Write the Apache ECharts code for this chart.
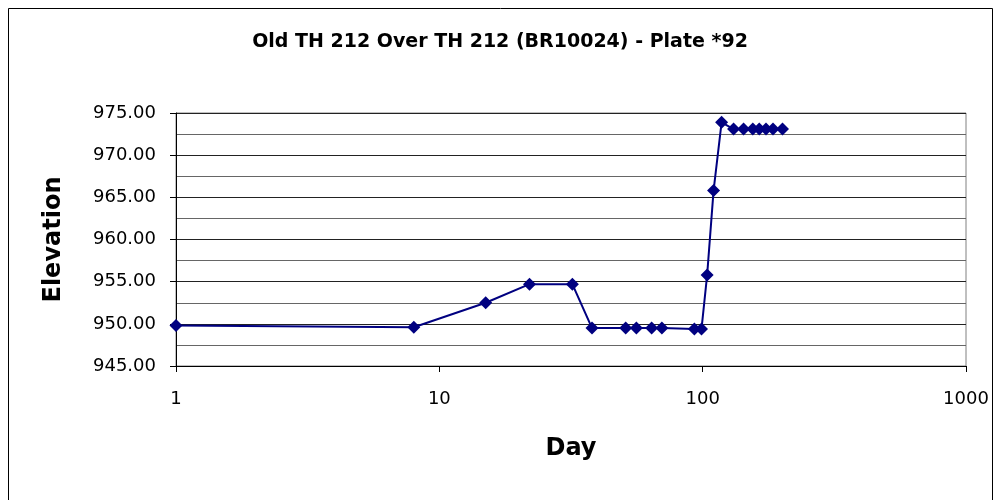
<!DOCTYPE html>
<html>
<head>
<meta charset="utf-8">
<script src="https://cdn.jsdelivr.net/npm/echarts@6/dist/echarts.min.js"></script>
<style>
  html, body { margin: 0; padding: 0; background: #fff; }
  #chart { width: 1000px; height: 500px; }
</style>
</head>
<body>
<div id="chart"></div>
<script>
// 读图得到的数据
var days = [1, 8, 15, 22, 32, 38, 51, 56, 64, 70, 93, 99, 104, 110, 118, 131, 143, 155, 164, 174, 185, 201];
var elevations = [949.8, 949.6, 952.5, 954.7, 954.7, 949.5, 949.5, 949.5, 949.5, 949.5, 949.4, 949.4,
    955.8, 965.8, 973.9, 973.1, 973.1, 973.1, 973.1, 973.1, 973.1, 973.1];
var xTicks = [1, 10, 100, 1000];

var points = [];
for (var i = 0; i < days.length; i++) {
    points.push([days[i], elevations[i]]);
}

var chart = echarts.init(document.getElementById('chart'));
var font = 'DejaVu Sans, sans-serif';
var option = {
    backgroundColor: '#fff',
    animation: false,
    title: {
        text: 'Old TH 212 Over TH 212 (BR10024) - Plate *92',
        left: 'center',
        top: 28,
        textStyle: { fontFamily: font, fontSize: 19, fontWeight: 'bold', color: '#000' }
    },
    graphic: [{
        type: 'rect',
        shape: { x: 8.5, y: 8.5, width: 984, height: 520 },
        style: { fill: 'none', stroke: '#000', lineWidth: 1 },
        z: -1
    }],
    grid: {
        left: 176, right: 34, top: 113, bottom: 134,
        show: true, borderColor: '#808080', borderWidth: 1
    },
    xAxis: {
        type: 'log',
        logBase: 10,
        min: 1,
        max: 1000,
        name: 'Day',
        nameLocation: 'middle',
        nameGap: 71,
        nameTextStyle: { fontFamily: font, fontSize: 24, fontWeight: 'bold', color: '#000' },
        axisLine: { show: true, lineStyle: { color: '#000', width: 1 } },
        axisTick: { show: true, inside: false, length: 6, lineStyle: { color: '#000' } },
        minorTick: { show: false },
        splitLine: { show: false },
        axisLabel: {
            margin: 24,
            fontFamily: font, fontSize: 18, color: '#000',
            formatter: function (v) {
                return xTicks.indexOf(Math.round(v)) >= 0 ? String(Math.round(v)) : '';
            }
        }
    },
    yAxis: {
        type: 'value',
        min: 945,
        max: 975,
        interval: 5,
        name: 'Elevation',
        nameLocation: 'middle',
        nameGap: 110,
        nameTextStyle: { fontFamily: font, fontSize: 24, fontWeight: 'bold', color: '#000' },
        axisLine: { show: true, lineStyle: { color: '#000', width: 1 } },
        axisTick: { show: true, inside: false, length: 6, lineStyle: { color: '#000' } },
        splitLine: { show: true, lineStyle: { color: '#222', width: 1 } },
        minorTick: { show: false, splitNumber: 2 },
        minorSplitLine: { show: true, lineStyle: { color: '#666', width: 1 } },
        axisLabel: {
            margin: 20,
            fontFamily: font, fontSize: 18, color: '#000',
            formatter: function (v) { return v.toFixed(2); }
        }
    },
    series: [{
        type: 'line',
        data: points,
        symbol: 'diamond',
        symbolSize: 13,
        itemStyle: { color: '#000080' },
        lineStyle: { color: '#000080', width: 2 }
    }]
};
chart.setOption(option);
</script>
</body>
</html>
